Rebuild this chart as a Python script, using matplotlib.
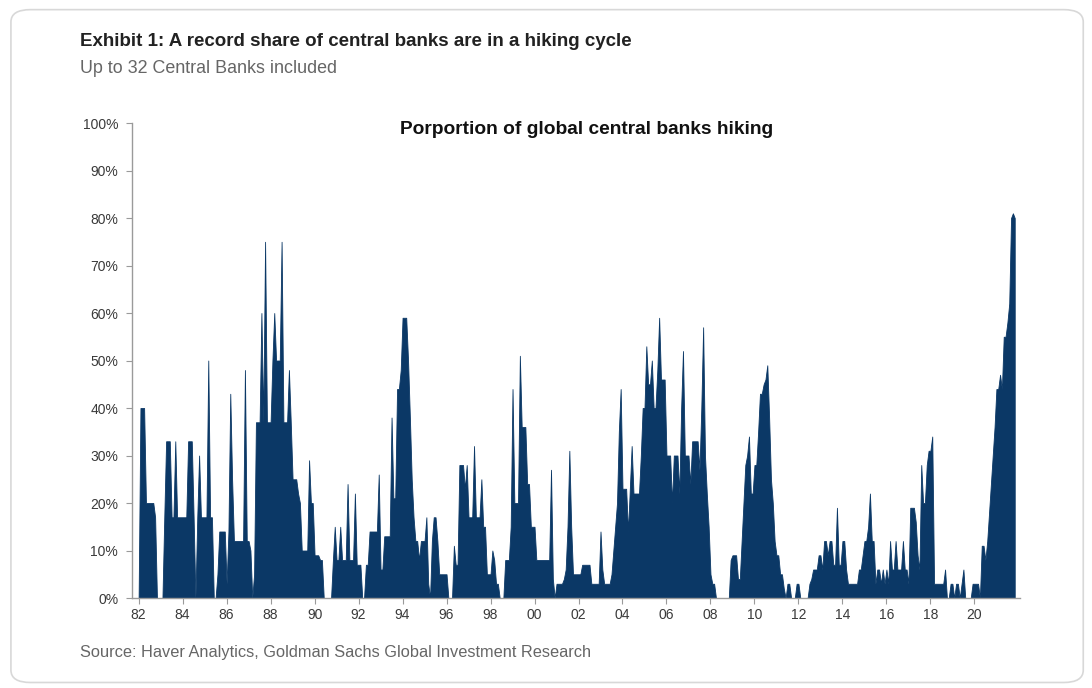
import matplotlib
matplotlib.use("Agg")
import matplotlib.pyplot as plt
from matplotlib.patches import FancyBboxPatch
import numpy as np

# ---- data: share of central banks hiking (%), monthly, Jan 1982 .. Nov 2021 ----
start_year = 1982
share_pct = [
    0, 40, 40, 40, 20, 20, 20, 20, 20, 17, 0, 0,        # 1982
    0, 0, 17, 33, 33, 33, 17, 17, 33, 17, 17, 17,       # 1983
    17, 17, 17, 33, 33, 33, 17, 0, 17, 30, 17, 17,      # 1984
    17, 17, 50, 17, 17, 0, 0, 5, 14, 14, 14, 14,        # 1985
    3, 14, 43, 25, 12, 12, 12, 12, 12, 12, 48, 12,      # 1986
    12, 10, 0, 5, 37, 37, 37, 60, 37, 75, 37, 37,       # 1987
    37, 50, 60, 50, 50, 50, 75, 37, 37, 37, 48, 37,     # 1988
    25, 25, 25, 22, 20, 10, 10, 10, 10, 29, 20, 20,     # 1989
    9, 9, 9, 8, 8, 0, 0, 0, 0, 0, 8, 15,                # 1990
    8, 8, 15, 8, 8, 8, 24, 8, 8, 8, 22, 7,              # 1991
    7, 7, 0, 0, 7, 7, 14, 14, 14, 14, 14, 26,           # 1992
    6, 6, 13, 13, 13, 13, 38, 21, 21, 44, 44, 48,       # 1993
    59, 59, 59, 50, 38, 25, 17, 12, 12, 8, 12, 12,      # 1994
    12, 17, 3, 0, 12, 17, 17, 12, 5, 5, 5, 5,           # 1995
    5, 0, 0, 0, 11, 7, 7, 28, 28, 28, 23, 28,           # 1996
    17, 17, 17, 32, 17, 17, 17, 25, 15, 15, 5, 5,       # 1997
    5, 10, 8, 3, 3, 0, 0, 0, 8, 8, 8, 15,               # 1998
    44, 20, 20, 20, 51, 36, 36, 36, 24, 24, 15, 15,     # 1999
    15, 8, 8, 8, 8, 8, 8, 8, 8, 27, 4, 0,               # 2000
    3, 3, 3, 3, 4, 6, 15, 31, 15, 5, 5, 5,              # 2001
    5, 5, 7, 7, 7, 7, 7, 3, 3, 3, 3, 3,                 # 2002
    14, 6, 3, 3, 3, 3, 5, 10, 15, 20, 35, 44,           # 2003
    23, 23, 23, 14, 23, 32, 22, 22, 22, 22, 30, 40,     # 2004
    40, 53, 45, 45, 50, 40, 40, 48, 59, 46, 46, 46,     # 2005
    30, 30, 30, 20, 30, 30, 30, 22, 40, 52, 30, 30,     # 2006
    30, 24, 33, 33, 33, 33, 27, 40, 57, 30, 22, 15,     # 2007
    5, 3, 3, 0, 0, 0, 0, 0, 0, 0, 0, 8,                 # 2008
    9, 9, 9, 4, 4, 12, 20, 28, 30, 34, 22, 22,          # 2009
    28, 28, 35, 43, 43, 45, 46, 49, 38, 25, 20, 12,     # 2010
    9, 9, 5, 5, 2, 0, 3, 3, 0, 0, 0, 3,                 # 2011
    3, 0, 0, 0, 0, 0, 3, 4, 6, 6, 6, 9,                 # 2012
    9, 6, 12, 12, 9, 12, 12, 7, 7, 19, 7, 7,            # 2013
    12, 12, 6, 3, 3, 3, 3, 3, 3, 6, 6, 9,               # 2014
    12, 12, 15, 22, 12, 12, 3, 6, 6, 3, 6, 3,           # 2015
    6, 3, 12, 6, 6, 12, 6, 6, 6, 12, 6, 6,              # 2016
    3, 19, 19, 19, 16, 9, 6, 28, 20, 20, 28, 31,        # 2017
    31, 34, 3, 3, 3, 3, 3, 3, 6, 0, 0, 3,               # 2018
    3, 0, 3, 3, 0, 3, 6, 0, 0, 0, 0, 3,                 # 2019
    3, 3, 3, 0, 11, 11, 8, 12, 18, 24, 30, 36,          # 2020
    44, 44, 47, 44, 55, 55, 58, 62, 80, 81, 80,         # 2021
]
x_tick_years = list(range(1982, 2021, 2))
x_tick_labels = ["82", "84", "86", "88", "90", "92", "94", "96", "98", "00",
                 "02", "04", "06", "08", "10", "12", "14", "16", "18", "20"]
y_ticks = list(range(0, 101, 10))
y_tick_labels = [f"{v}%" for v in y_ticks]

title = "Exhibit 1: A record share of central banks are in a hiking cycle"
subtitle = "Up to 32 Central Banks included"
inner_title = "Porportion of global central banks hiking"
source = "Source: Haver Analytics, Goldman Sachs Global Investment Research"

# ---- figure ----
fig = plt.figure(figsize=(10.92, 6.88), dpi=100)
fig.patch.set_facecolor("white")

border = FancyBboxPatch((0.010, 0.008), 0.982, 0.978,
                        boxstyle="round,pad=0,rounding_size=0.018",
                        transform=fig.transFigure, facecolor="none",
                        edgecolor="#d8d8d8", linewidth=1.2)
fig.patches.append(border)

ax = fig.add_axes([0.1209, 0.1308, 0.8131, 0.6904])
x = start_year + np.arange(len(share_pct)) / 12.0
y = np.array(share_pct, dtype=float)
navy = "#0b3866"
ax.fill_between(x, 0, y, color=navy, linewidth=0.6, edgecolor=navy)

ax.set_xlim(1981.70, 2022.07)
ax.set_ylim(0, 100)
ax.set_xticks(x_tick_years)
ax.set_xticklabels(x_tick_labels)
ax.set_yticks(y_ticks)
ax.set_yticklabels(y_tick_labels)

for side in ["top", "right"]:
    ax.spines[side].set_visible(False)
for side in ["left", "bottom"]:
    ax.spines[side].set_color("#9a9a9a")
    ax.spines[side].set_linewidth(1.0)

ax.tick_params(axis="both", colors="#9a9a9a", labelcolor="#3a3a3a",
               labelsize=10, length=4, width=0.8)
ax.tick_params(axis="y", pad=6)
ax.tick_params(axis="x", pad=3)
for lbl in ax.get_xticklabels() + ax.get_yticklabels():
    lbl.set_family(["Liberation Sans", "DejaVu Sans"])

ax.set_facecolor("white")

fig.text(0.5375, 0.812, inner_title, ha="center", va="center",
         fontsize=13.8, fontweight="bold", color="#111111",
         family=["Liberation Sans", "DejaVu Sans"])

fig.text(0.0733, 0.939, title, ha="left", va="center", fontsize=13.5,
         fontweight="bold", color="#222222",
         family=["Liberation Sans", "DejaVu Sans"])
fig.text(0.0733, 0.901, subtitle, ha="left", va="center", fontsize=12.9,
         color="#666666", family=["Liberation Sans", "DejaVu Sans"])
fig.text(0.0733, 0.052, source, ha="left", va="center", fontsize=11.8,
         color="#666666", family=["Liberation Sans", "DejaVu Sans"])

fig.savefig("out.png", dpi=100, facecolor="white")
